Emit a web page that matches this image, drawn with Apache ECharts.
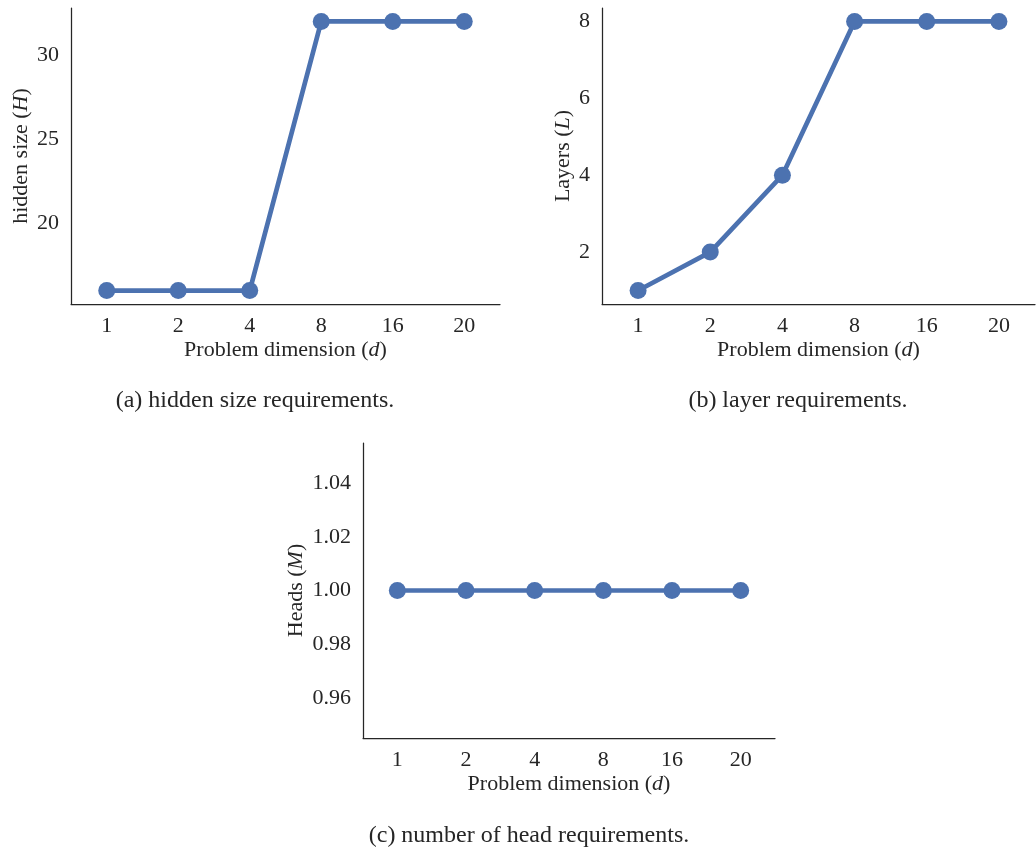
<!DOCTYPE html>
<html>
<head>
<meta charset="utf-8">
<script src="https://cdn.jsdelivr.net/npm/echarts@6/dist/echarts.min.js"></script>
<style>
html,body{margin:0;padding:0;background:#fff;}
#c{width:1036px;height:848px;}
</style>
</head>
<body>
<div id="c"></div>
<script>
const dims = ['1', '2', '4', '8', '16', '20'];
const hiddenSize = [16, 16, 16, 32, 32, 32];
const layers = [1, 2, 4, 8, 8, 8];
const heads = [1, 1, 1, 1, 1, 1];
const hiddenTicks = [20, 25, 30];
const layerTicks = [2, 4, 6, 8];
const headTicks = [0.96, 0.98, 1.00, 1.02, 1.04];

const FONT = 'Liberation Serif';
const TXT = '#262626';
const BLUE = '#4C72B0';
const FS = 22;

function xAxis(idx) {
  return {
    type: 'category', gridIndex: idx, data: dims, boundaryGap: true,
    axisLine: { lineStyle: { color: TXT, width: 1.25 } },
    axisTick: { show: false },
    axisLabel: { color: TXT, fontFamily: FONT, fontSize: FS, margin: 11 },
    name: 'Problem dimension ({i|d})', nameLocation: 'middle', nameGap: 35,
    nameTextStyle: { color: TXT, fontFamily: FONT, fontSize: FS,
      rich: { i: { fontStyle: 'italic', fontFamily: FONT, fontSize: FS, color: TXT } } }
  };
}
function yAxis(idx, min, max, ticks, name, letter, gap, fmt) {
  return {
    type: 'value', gridIndex: idx, min: min, max: max,
    splitLine: { show: false },
    axisLine: { show: true, lineStyle: { color: TXT, width: 1.25 } },
    axisTick: { show: false },
    axisLabel: { color: TXT, fontFamily: FONT, fontSize: FS, margin: 12,
      customValues: ticks, formatter: fmt || (v => String(v)) },
    name: name + ' ({i|' + letter + '})', nameLocation: 'middle', nameGap: gap, nameRotate: 90,
    nameTextStyle: { color: TXT, fontFamily: FONT, fontSize: FS,
      rich: { i: { fontStyle: 'italic', fontFamily: FONT, fontSize: FS, color: TXT } } }
  };
}
function series(idx, data) {
  return {
    type: 'line', xAxisIndex: idx, yAxisIndex: idx, data: data,
    symbol: 'circle', symbolSize: 17,
    lineStyle: { color: BLUE, width: 4.7 },
    itemStyle: { color: BLUE },
    animation: false
  };
}
function caption(text, x, y) {
  return {
    text: text, left: x, top: y, textAlign: 'center',
    textStyle: { fontFamily: FONT, fontSize: 24, fontWeight: 'normal', color: TXT }
  };
}

const chart = echarts.init(document.getElementById('c'), null, { renderer: 'canvas' });
chart.setOption({
  animation: false,
  backgroundColor: '#fff',
  title: [
    caption('(a) hidden size requirements.', 250, 384),
    caption('(b) layer requirements.', 793, 384),
    caption('(c) number of head requirements.', 524, 819)
  ],
  grid: [
    { left: 71, top: 8, width: 429, height: 296 },
    { left: 602, top: 8, width: 433, height: 296 },
    { left: 363, top: 443, width: 412, height: 295 }
  ],
  xAxis: [xAxis(0), xAxis(1), xAxis(2)],
  yAxis: [
    yAxis(0, 15.2, 32.8, hiddenTicks, 'hidden size', 'H', 39),
    yAxis(1, 0.65, 8.35, layerTicks, 'Layers', 'L', 28),
    yAxis(2, 0.945, 1.055, headTicks, 'Heads', 'M', 56, v => v.toFixed(2))
  ],
  series: [series(0, hiddenSize), series(1, layers), series(2, heads)]
});
</script>
</body>
</html>
